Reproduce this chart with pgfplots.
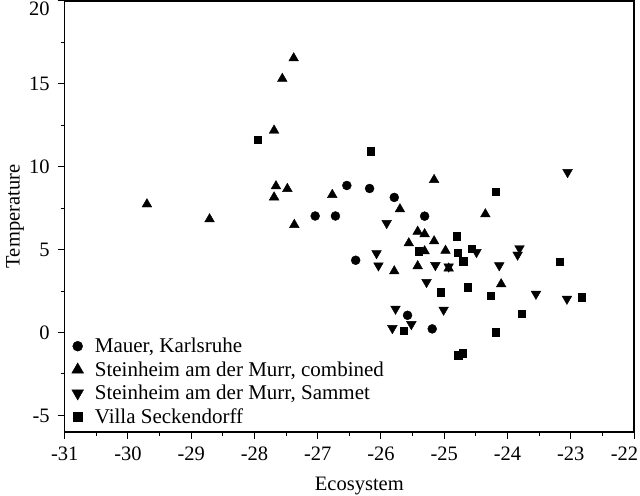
\documentclass[border=0pt]{standalone}
\usepackage{fontspec}
\setmainfont{Liberation Serif}
\usepackage{pgfplots}
\pgfplotsset{compat=1.18}
\begin{document}
\fontsize{20.5}{24}\selectfont
\begin{tikzpicture}
\begin{axis}[
  scale only axis, width=569.3pt, height=431pt,
  xmin=-31, xmax=-22, ymin=-6, ymax=20,
  xtick={-31,-30,...,-22}, ytick={-5,0,5,10,15,20},
  xticklabels={-31,-30,-29,-28,-27,-26,-25,-24,-23,{\hspace*{-19pt}-22}},
  yticklabels={-5,0,5,10,15,{\raisebox{-7.5pt}[14pt][0pt]{20}}},
  minor xtick={-30.5,-29.5,-28.5,-27.5,-26.5,-25.5,-24.5,-23.5,-22.5},
  minor ytick={-2.5,2.5,7.5,12.5,17.5},
  tick align=outside, xtick pos=bottom, ytick pos=left,
  major tick length=7pt, minor tick length=4pt,
  axis line style={line width=1.2pt},
  every tick/.style={line width=1pt, black},
  ticklabel style={font=\fontsize{20.5}{24}\selectfont},
  xticklabel style={yshift=-1pt},
  yticklabel style={xshift=-1pt},
  xlabel={Ecosystem}, ylabel={Temperature},
  xlabel style={at={(axis description cs:0.5176,-0.1369)}, anchor=base, font=\fontsize{20.5}{24}\selectfont},
  ylabel style={at={(axis description cs:-0.079,0.5)}, anchor=base, font=\fontsize{20.5}{24}\selectfont},
  legend style={at={(axis description cs:0,0)}, anchor=south west, draw=none, fill=none,
    inner sep=0pt, outer sep=0pt, yshift=6.8pt, row sep=6.5pt, column sep=0pt,
    nodes={inner sep=0pt, outer sep=0pt, text height=15pt, text depth=2pt},
    font=\fontsize{21}{24}\selectfont},
  legend cell align=left,
]
\addplot[only marks, mark=*, mark size=4.5pt, black,
  legend image code/.code={\path (-12.8pt,0) (17pt,0); \fill[black] (0,0) circle (5pt);}] coordinates {
(-27.04,7.03) (-26.72,7.03) (-26.54,8.87) (-26.18,8.69) (-25.79,8.15)
(-25.31,7.02) (-26.40,4.36) (-25.58,1.04) (-25.19,0.22)
};
\addlegendentry{Mauer, Karlsruhe}
\addplot[only marks, mark=triangle*, mark size=5.6pt, black,
  legend image code/.code={\path (-12.8pt,0) (17pt,0); \fill[black] (90:6.8pt) -- (210:6.8pt) -- (330:6.8pt) -- cycle;}] coordinates {
(-29.70,7.74) (-28.71,6.84) (-27.69,12.19) (-27.56,15.31) (-27.38,16.55)
(-27.66,8.83) (-27.48,8.67) (-27.69,8.16) (-27.37,6.50) (-26.77,8.31)
(-25.70,7.44) (-25.16,9.21) (-25.42,6.09) (-25.31,5.94) (-25.16,5.51)
(-25.56,5.39) (-25.31,4.91) (-24.98,4.94) (-25.42,4.01) (-25.79,3.70)
(-24.93,3.87) (-24.35,7.14) (-24.10,2.92)
};
\addlegendentry{Steinheim am der Murr, combined}
\addplot[only marks, mark=triangle*, mark size=5.6pt, mark options={rotate=180}, black,
  legend image code/.code={\path (-12.8pt,0) (17pt,0); \fill[black] (270:6.8pt) -- (30:6.8pt) -- (150:6.8pt) -- cycle;}] coordinates {
(-25.91,6.60) (-26.07,4.78) (-26.04,4.04) (-25.14,4.06) (-24.93,3.98)
(-24.49,4.85) (-25.28,3.04) (-24.13,4.05) (-23.81,5.08) (-23.84,4.69)
(-23.55,2.33) (-23.06,2.03) (-23.05,9.67) (-25.77,1.43) (-25.01,1.37)
(-25.82,0.26) (-25.52,0.50)
};
\addlegendentry{Steinheim am der Murr, Sammet}
\addplot[only marks, mark=square*, mark size=3.6pt, black,
  legend image code/.code={\path (-12.8pt,0) (17pt,0); \fill[black] (-4.8pt,-4.8pt) rectangle (4.8pt,4.8pt);}] coordinates {
(-27.95,11.61) (-26.16,10.94) (-24.80,5.81) (-25.40,4.91) (-24.79,4.83)
(-24.56,5.05) (-24.70,4.30) (-25.06,2.43) (-24.63,2.73) (-24.26,2.23)
(-24.19,8.49) (-23.17,4.28) (-22.83,2.13) (-23.78,1.16) (-25.64,0.10)
(-24.19,0.02) (-24.78,-1.37) (-24.71,-1.25)
};
\addlegendentry{Villa Seckendorff}
\end{axis}
\path (current axis.south west) +(-64.7pt,-64pt) coordinate (bl);
\path (current axis.north east) +(6pt,1pt) coordinate (tr);
\pgfresetboundingbox
\path[use as bounding box] (bl) rectangle (tr);
\end{tikzpicture}
\end{document}
